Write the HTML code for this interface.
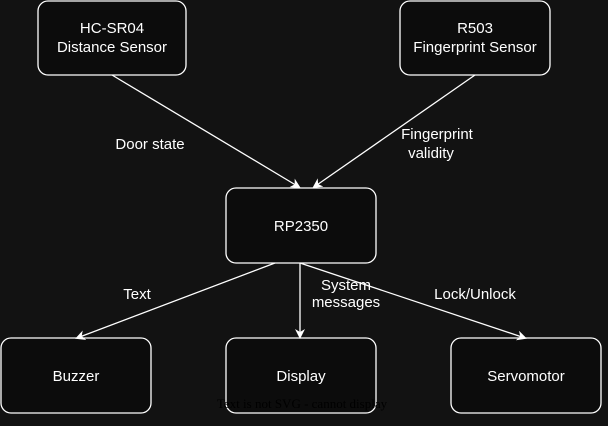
<!DOCTYPE html>
<html><head><style>
html,body{margin:0;padding:0;background:#121212;}
svg{display:block}
text{font-family:"Liberation Sans",Arial,sans-serif;fill:#fff;font-size:15px}
</style></head><body>
<svg width="608" height="426" viewBox="0 0 608 426" xmlns="http://www.w3.org/2000/svg">
<defs><marker id="a" markerWidth="10" markerHeight="10" refX="8" refY="5" orient="auto" markerUnits="userSpaceOnUse"><path d="M0,0 L10,5 L0,10 L3,5 Z" fill="#fff"/></marker></defs>
<rect width="608" height="426" fill="#121212"/>
<g fill="#0c0c0c" stroke="#fff" stroke-width="1.3">
<rect x="38" y="1" width="148" height="74" rx="10"/>
<rect x="400" y="1" width="150" height="74" rx="10"/>
<rect x="226" y="188" width="150" height="75" rx="10"/>
<rect x="1" y="338" width="150" height="75" rx="10"/>
<rect x="226" y="338" width="150" height="75" rx="10"/>
<rect x="451" y="338" width="150" height="75" rx="10"/>
</g>
<g stroke="#fff" stroke-width="1.3" marker-end="url(#a)">
<line x1="112" y1="75" x2="299" y2="187"/>
<line x1="475" y1="75" x2="314" y2="187"/>
<line x1="275" y1="263" x2="77" y2="338"/>
<line x1="300" y1="263" x2="300" y2="337"/>
<line x1="300" y1="263" x2="525" y2="338"/>
</g>
<g text-anchor="middle">
<text x="112" y="33">HC-SR04</text><text x="112" y="52">Distance Sensor</text>
<text x="475" y="33">R503</text><text x="475" y="52">Fingerprint Sensor</text>
<text x="301" y="231">RP2350</text>
<text x="76" y="381">Buzzer</text>
<text x="301" y="381">Display</text>
<text x="526" y="381">Servomotor</text>
<text x="150" y="149">Door state</text>
<text x="437" y="139">Fingerprint</text><text x="431" y="158">validity</text>
<text x="137" y="299">Text</text>
<text x="346" y="290">System</text><text x="346" y="307">messages</text>
<text x="475" y="299">Lock/Unlock</text>
<text x="302" y="408" style="font-family:'Liberation Serif',serif;font-size:13px;fill:#000">Text is not SVG - cannot display</text>
</g>
</svg>
</body></html>
